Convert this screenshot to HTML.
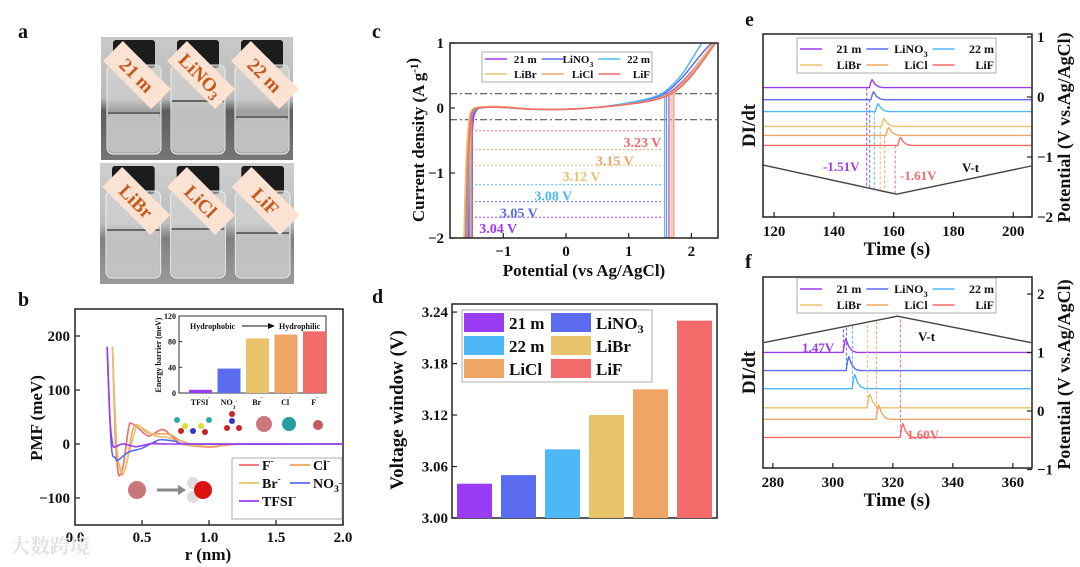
<!DOCTYPE html>
<html><head><meta charset="utf-8">
<style>
html,body{margin:0;padding:0;background:#fff;}
svg{display:block;font-family:"Liberation Serif","Noto Serif CJK SC",serif;font-weight:bold;}
</style></head>
<body>
<svg id="fig" width="1080" height="567" viewBox="0 0 1080 567" xmlns="http://www.w3.org/2000/svg">
<defs>
<clipPath id="clipB"><rect x="75" y="309" width="268" height="216"/></clipPath>
<clipPath id="clipC"><rect x="450" y="43" width="268" height="195"/></clipPath>
<linearGradient id="vialTop" x1="0" y1="0" x2="0" y2="1"><stop offset="0" stop-color="#c9c9c9"/><stop offset="0.5" stop-color="#b9b9b9"/><stop offset="0.6" stop-color="#5d5d5d"/><stop offset="1" stop-color="#777"/></linearGradient>
<linearGradient id="vialBot" x1="0" y1="0" x2="0" y2="1"><stop offset="0" stop-color="#cfcfcf"/><stop offset="0.5" stop-color="#bdbdbd"/><stop offset="0.62" stop-color="#808080"/><stop offset="1" stop-color="#9a9a9a"/></linearGradient>
</defs>
<g id="root"></g>
</svg>
<script>
// ---------- data ----------
const seriesNames = ["21 m","LiNO3","22 m","LiBr","LiCl","LiF"];
const seriesColors = ["#9B3CF5","#5B6CF0","#4DB8F5","#E8C36A","#EFA565","#F46B6B"];
// panel d
const windowValues = [3.04,3.05,3.08,3.12,3.15,3.23];
const dTicks = [3.00,3.06,3.12,3.18,3.24];
// panel b inset
const insetCats = ["TFSI","NO3","Br","Cl","F"];
const insetValues = [5,38,85,91,96];
const insetTicks = [0,40,80,120];
// panel b PMF curves [r, meV]
const pmfF = [[0.28,180],[0.3,20],[0.32,-50],[0.335,-57],[0.36,-40],[0.4,30],[0.42,38],[0.47,30],[0.55,15],[0.65,27],[0.72,15],[0.8,0],[0.95,-5],[1.05,-5],[1.2,0],[2,0]];
const pmfCl = [[0.28,180],[0.31,0],[0.34,-50],[0.36,-55],[0.39,-30],[0.43,25],[0.47,35],[0.55,20],[0.7,18],[0.8,5],[0.95,-5],[1.1,-3],[1.3,0],[2,0]];
const pmfBr = [[0.28,180],[0.31,0],[0.34,-45],[0.37,-50],[0.41,-10],[0.46,32],[0.5,30],[0.6,15],[0.7,12],[0.8,0],[0.9,-3],[1.1,0],[2,0]];
const pmfNO3 = [[0.24,180],[0.27,0],[0.3,-25],[0.32,-30],[0.4,-15],[0.5,-8],[0.6,5],[0.65,8],[0.75,5],[0.9,0],[2,0]];
const pmfTFSI = [[0.24,180],[0.26,50],[0.28,0],[0.3,-5],[0.35,0],[0.4,-2],[0.45,-5],[0.5,-3],[0.6,2],[0.7,0],[2,0]];
const bTicksX = [0.0,0.5,1.0,1.5,2.0];
const bTicksY = [-100,0,100,200];
// panel c LSV curves [V, A/g]
const lsv21 = [[-1.55,-2.1],[-1.52,-1],[-1.49,-0.3],[-1.44,-0.05],[-1.3,0.01],[-1,0.01],[-0.5,-0.02],[0,-0.02],[0.5,0.01],[1,0.06],[1.4,0.13],[1.7,0.27],[1.95,0.5],[2.2,0.8],[2.4,1.05]];
const lsvNO3 = [[-1.57,-2.1],[-1.54,-1],[-1.51,-0.3],[-1.46,-0.05],[-1.3,0.01],[-1,0.01],[-0.5,-0.02],[0,-0.02],[0.5,0.01],[1,0.07],[1.4,0.15],[1.65,0.28],[1.9,0.52],[2.15,0.82],[2.37,1.05]];
const lsv22 = [[-1.58,-2.1],[-1.55,-1],[-1.52,-0.3],[-1.47,-0.05],[-1.3,0.01],[-1,0.01],[-0.5,-0.02],[0,-0.02],[0.5,0.01],[1,0.08],[1.4,0.17],[1.6,0.27],[1.85,0.52],[2.05,0.82],[2.2,1.05]];
const lsvBr = [[-1.63,-2.1],[-1.6,-1],[-1.56,-0.3],[-1.5,-0.03],[-1.3,0.02],[-1,0.02],[-0.5,-0.02],[0,-0.02],[0.5,0.01],[1,0.06],[1.4,0.13],[1.7,0.25],[1.95,0.48],[2.2,0.8],[2.38,1.05]];
const lsvCl = [[-1.61,-2.1],[-1.58,-1],[-1.54,-0.3],[-1.49,-0.04],[-1.3,0.01],[-1,0.01],[-0.5,-0.02],[0,-0.02],[0.5,0.01],[1,0.06],[1.4,0.12],[1.72,0.25],[1.97,0.48],[2.22,0.8],[2.4,1.05]];
const lsvF = [[-1.6,-2.1],[-1.57,-1],[-1.53,-0.3],[-1.48,-0.04],[-1.3,0.01],[-1,0.01],[-0.5,-0.02],[0,-0.02],[0.5,0.01],[1,0.06],[1.4,0.12],[1.72,0.24],[1.98,0.47],[2.24,0.8],[2.42,1.05]];
const cTicksX = [-1,0,1,2];
const cTicksY = [-2,-1,0,1];
const cLeftCut = [-1.5,-1.49,-1.52,-1.53,-1.51,-1.5];
const cRightCut = [1.64,1.6,1.57,1.66,1.69,1.72];
const cLevels = [-1.68,-1.44,-1.18,-0.88,-0.64,-0.35];
const cLabels = ["3.04 V","3.05 V","3.08 V","3.12 V","3.15 V","3.23 V"];
const cLabelEnd = [-0.78,-0.45,0.1,0.55,1.08,1.52];
// panel e
const eBase = [70.7,64.1,57.6,49.5,44.6,39.1];
const ePeakT = [152.5,153,154.5,156.5,158,162];
const eCutT = [151,152,153.5,155.5,157,160.5];
const eVtT = [116,161,206];
const eVtV = [-1.13,-1.62,-1.15];
const eTicksX = [120,140,160,180,200];
const eTicksR = [-2,-1,0,1];
// panel f
const fBase = [60.5,51,41.5,31.5,25.5,16];
const fPeakT = [304,305,307,312,315,323];
const fCutT = [303.5,304.5,306.5,311.5,314.5,322.5];
const fVtT = [277,321.5,366];
const fVtV = [1.17,1.62,1.17];
const fTicksX = [280,300,320,340,360];
const fTicksR = [-1,0,1,2];

// ---------- helpers ----------
const NS="http://www.w3.org/2000/svg";
const root=document.getElementById('root');
function mk(tag,attrs,name,parent){
  const el=document.createElementNS(NS,tag);
  for(const k in attrs) el.setAttribute(k,attrs[k]);
  
  
  (parent||root).appendChild(el);
  return el;
}
function txt(x,y,s,size,name,opts){
  opts=opts||{};
  const el=mk('text',{x:x,y:y,'font-size':size,fill:opts.fill||'#111','text-anchor':opts.anchor||'start'},name,opts.parent);
  if(opts.rot) el.setAttribute('transform','rotate('+opts.rot+' '+x+' '+y+')');
  if(opts.html) el.innerHTML=s; else el.textContent=s;
  return el;
}
function line(x1,y1,x2,y2,stroke,w,name,dash,parent){
  const a={x1:x1,y1:y1,x2:x2,y2:y2,stroke:stroke,'stroke-width':w};
  if(dash) a['stroke-dasharray']=dash;
  return mk('line',a,name,parent);
}
function smooth(pts){
  let d='M'+pts[0][0].toFixed(2)+','+pts[0][1].toFixed(2);
  for(let i=0;i<pts.length-1;i++){
    const p0=pts[i-1]||pts[i],p1=pts[i],p2=pts[i+1],p3=pts[i+2]||p2;
    const c1=[p1[0]+(p2[0]-p0[0])/6,p1[1]+(p2[1]-p0[1])/6];
    const c2=[p2[0]-(p3[0]-p1[0])/6,p2[1]-(p3[1]-p1[1])/6];
    d+=' C'+c1[0].toFixed(2)+','+c1[1].toFixed(2)+' '+c2[0].toFixed(2)+','+c2[1].toFixed(2)+' '+p2[0].toFixed(2)+','+p2[1].toFixed(2);
  }
  return d;
}
function frame(x,y,w,h,name){ return mk('rect',{x:x,y:y,width:w,height:h,fill:'none',stroke:'#222','stroke-width':1.5},name); }
function sub(s){return '<tspan font-size="70%" dy="4">'+s+'</tspan><tspan dy="-4"></tspan>';}
function sup(s){return '<tspan font-size="65%" dy="-6">'+s+'</tspan><tspan dy="6"></tspan>';}
function labelHtml(n){ return n==="LiNO3" ? 'LiNO'+sub('3') : n; }

// panel letters
[['a',18,38],['b',18,306],['c',372,38],['d',372,303],['e',745,26],['f',745,268]].forEach(p=>txt(p[1],p[2],p[0],20,'panel-label-'+p[0]));

// ---------- panel a (photos) ----------
function photo(x,y,w,h,grad,labels,liquidY,name){
  const g=mk('g',{},name);
  mk('rect',{x:x,y:y,width:w,height:h,fill:'url(#'+grad+')'},name+'-background',g);
  const vw=w/3;
  labels.forEach((lb,i)=>{
    const vx=x+i*vw+6;
    mk('rect',{x:vx+6,y:y+3,width:vw-22,height:28,rx:3,fill:'#1c1c1c'},'vial-cap',g);
    mk('rect',{x:vx,y:y+28,width:vw-10,height:h-34,rx:6,fill:'#d9d9d9','fill-opacity':0.55,stroke:'#eee','stroke-width':1},'vial-body',g);
    mk('rect',{x:vx+1,y:liquidY[i],width:vw-12,height:y+h-8-liquidY[i],rx:5,fill:'#c4c4c4','fill-opacity':0.85},'vial-liquid',g);
    line(vx+1,liquidY[i],vx+vw-11,liquidY[i],'#666',2,'liquid-meniscus',null,g);
    const cx=vx+vw/2-2, cy=y+38;
    const lg=mk('g',{transform:'rotate(45 '+cx+' '+cy+')'},'vial-label',g);
    mk('rect',{x:cx-34,y:cy-14,width:68,height:28,fill:'#FBE3D3'},'vial-label-box',lg);
    txt(cx,cy+7,labelHtml(lb),19,'vial-label-text',{anchor:'middle',fill:'#C5591C',parent:lg,html:true});
  });
}
photo(101,37,192,123,'vialTop',["21 m","LiNO3","22 m"],[113,101,117],'photo-top');
photo(100,163,194,121,'vialBot',["LiBr","LiCl","LiF"],[230,229,233],'photo-bottom');

// ---------- panel b ----------
const bx=r=>75+r*134, by=v=>444-v*0.54;
frame(75,309,268,216,'pmf-plot-frame');
bTicksX.forEach(t=>{line(bx(t),525,bx(t),520,'#222',1.2,'x-tick');txt(bx(t),542,t.toFixed(1),15,'x-tick-label',{anchor:'middle'});});
bTicksY.forEach(t=>{line(75,by(t),80,by(t),'#222',1.2,'y-tick');txt(70,by(t)+5,(t<0?'\u2212':'')+Math.abs(t),15,'y-tick-label',{anchor:'end'});});
txt(208,560,'r (nm)',17,'x-axis-title',{anchor:'middle'});
txt(42,418,'PMF (meV)',17,'y-axis-title',{anchor:'middle',rot:-90});
const gb=mk('g',{'clip-path':'url(#clipB)'},'pmf-curves');
[[pmfF,5],[pmfCl,4],[pmfBr,3],[pmfNO3,1],[pmfTFSI,0]].forEach(s=>{
  mk('path',{d:smooth(s[0].map(p=>[bx(p[0]),by(p[1])])),fill:'none',stroke:seriesColors[s[1]],'stroke-width':1.6},'pmf-line-'+s[1],gb);
});
// inset
const iy=v=>393-v*0.642;
mk('rect',{x:179,y:316,width:147,height:77,fill:'#fff',stroke:'#333','stroke-width':1},'inset-frame');
insetTicks.forEach(t=>{line(179,iy(t),182,iy(t),'#333',1,'inset-y-tick');txt(176,iy(t)+3,t,8,'inset-y-tick-label',{anchor:'end'});});
txt(161,355,'Energy barrier (meV)',8,'inset-y-title',{anchor:'middle',rot:-90});
const insetColors=[0,1,3,4,5];
insetCats.forEach((c,i)=>{
  const cx=200.5+28.5*i;
  mk('rect',{x:cx-11.5,y:iy(insetValues[i]),width:23,height:393-iy(insetValues[i]),fill:seriesColors[insetColors[i]]},'inset-bar-'+c);
  txt(cx,405,'',8,'inset-x-label',{anchor:'middle',html:true}).innerHTML= i==1?'NO'+sub('3')+sup('-'):c+sup('-');
});
txt(190,329,'Hydrophobic',8,'inset-annotation-left');
line(242,326,272,326,'#111',1,'inset-arrow-line');
mk('polygon',{points:'275,326 268,323 268,329',fill:'#111'},'inset-arrow-head');
txt(279,329,'Hydrophilic',8,'inset-annotation-right');
// molecules
const tfsi=[[177,420,'#3aa'],[185,426,'#dd3'],[193,431,'#33c'],[201,426,'#dd3'],[209,420,'#3aa'],[181,431,'#c22'],[205,432,'#c22']];
tfsi.forEach(a=>mk('circle',{cx:a[0],cy:a[1],r:3,fill:a[2]},'tfsi-atom'));
[[232,421,'#33c'],[227,428,'#c22'],[239,428,'#c22'],[232,414,'#c22']].forEach(a=>mk('circle',{cx:a[0],cy:a[1],r:3,fill:a[2]},'nitrate-atom'));
mk('circle',{cx:264,cy:424,r:8,fill:'#c9777b'},'bromide-ion');
mk('circle',{cx:289,cy:424,r:7,fill:'#229e9e'},'chloride-ion');
mk('circle',{cx:318,cy:425,r:5,fill:'#c25a5f'},'fluoride-ion');
mk('circle',{cx:137,cy:490,r:9,fill:'#c9777b'},'ion-sphere');
line(157,490,180,490,'#888',3,'ion-water-arrow');
mk('polygon',{points:'186,490 178,485 178,495',fill:'#888'},'ion-water-arrow-head');
mk('circle',{cx:193,cy:483,r:6,fill:'#ddd'},'water-h1');
mk('circle',{cx:193,cy:497,r:6,fill:'#ddd'},'water-h2');
mk('circle',{cx:203,cy:490,r:9,fill:'#d11'},'water-o');
// legend b
mk('rect',{x:232,y:458,width:110,height:61,fill:'#fff',stroke:'#999','stroke-width':0.8},'pmf-legend');
[[5,'F'+sup('-'),239,470],[4,'Cl'+sup('-'),290,470],[3,'Br'+sup('-'),239,488],[1,'NO'+sub('3')+sup('-'),290,488],[0,'TFSI'+sup('-'),239,506]].forEach(e=>{
  line(e[2],e[3]-5,e[2]+20,e[3]-5,seriesColors[e[0]],1.8,'pmf-legend-swatch');
  txt(e[2]+23,e[3],e[1],14,'pmf-legend-label',{html:true});
});
txt(10,553,'\u5927\u6570\u8de8\u5883',20,'watermark',{fill:'#e2e2e2'});

// ---------- panel c ----------
const cx_=v=>566+v*62.7, cy_=v=>108-v*65;
const gc=mk('g',{'clip-path':'url(#clipC)'},'lsv-area');
[0.22,-0.18].forEach(v=>line(450,cy_(v),718,cy_(v),'#555',1.2,'threshold-line','7,3,2,3',gc));
[lsv21,lsvNO3,lsv22,lsvBr,lsvCl,lsvF].forEach((s,i)=>{
  mk('path',{d:smooth(s.map(p=>[cx_(p[0]),cy_(p[1])])),fill:'none',stroke:seriesColors[i],'stroke-width':1.5},'lsv-line-'+seriesNames[i],gc);
  line(cx_(cLeftCut[i]),cy_(-0.18),cx_(cLeftCut[i]),238,seriesColors[i],1,'cathodic-limit-line',null,gc);
  line(cx_(cRightCut[i]),cy_(0.22),cx_(cRightCut[i]),238,seriesColors[i],1,'anodic-limit-line',null,gc);
  line(cx_(-1.45),cy_(cLevels[i]),cx_(1.55),cy_(cLevels[i]),seriesColors[i],1,'window-level-line','2,2',gc);
  txt(cx_(cLabelEnd[i]),cy_(cLevels[i])+16,cLabels[i],14,'window-label-'+seriesNames[i],{anchor:'end',fill:seriesColors[i],parent:gc});
});
frame(450,43,268,195,'lsv-plot-frame');
cTicksX.forEach(t=>{line(cx_(t),238,cx_(t),233,'#222',1.2,'x-tick');txt(cx_(t),256,(t<0?'\u2212':'')+Math.abs(t),15,'x-tick-label',{anchor:'middle'});});
cTicksY.forEach(t=>{line(450,cy_(t),455,cy_(t),'#222',1.2,'y-tick');txt(444,cy_(t)+5,(t<0?'\u2212':'')+Math.abs(t),15,'y-tick-label',{anchor:'end'});});
txt(584,276,'Potential (vs Ag/AgCl)',17,'x-axis-title',{anchor:'middle'});
txt(424,140,'Current density (A g'+sup('-1')+')',17,'y-axis-title',{anchor:'middle',rot:-90,html:true});
function legend6(x0,y0,w,h,name,fs,rowY){
  mk('rect',{x:x0,y:y0,width:w,height:h,fill:'#fff',stroke:'#999','stroke-width':0.8},name);
  seriesNames.forEach((n,i)=>{
    const c=i%3,r=Math.floor(i/3), X=x0+3+c*(w/3), Y=rowY[r];
    line(X,Y-4,X+22,Y-4,seriesColors[i],1.6,name+'-swatch');
    txt(X+w/3-5,Y,labelHtml(n),fs,name+'-label',{anchor:'end',html:true});
  });
}
legend6(482,52,170,30,'lsv-legend',11,[63,78]);

// ---------- panel d ----------
const dy=v=>518-(v-3.0)*858;
frame(452,304,265,214,'bar-plot-frame');
dTicks.forEach(t=>{line(452,dy(t),457,dy(t),'#222',1.2,'y-tick');txt(448,dy(t)+5,t.toFixed(2),15,'y-tick-label',{anchor:'end'});});
windowValues.forEach((v,i)=>{
  const cx=474.5+44*i;
  mk('rect',{x:cx-17.5,y:dy(v),width:35,height:518-dy(v),fill:seriesColors[i]},'bar-'+seriesNames[i]);
});
txt(403,410,'Voltage window (V)',19,'y-axis-title',{anchor:'middle',rot:-90});
mk('rect',{x:462,y:310,width:190,height:72,fill:'#fff',stroke:'#999','stroke-width':0.8},'bar-legend');
seriesNames.forEach((n,i)=>{
  const c=i%2,r=Math.floor(i/2),X=464+c*87,Y=313+r*23;
  mk('rect',{x:X,y:Y,width:40,height:19,fill:seriesColors[i]},'bar-legend-swatch');
  txt(X+45,Y+16,labelHtml(n),17,'bar-legend-label',{html:true});
});

// ---------- panels e & f ----------
function dpanel(o){
  const X=t=>o.x0+(t-o.t0)*o.sx, YL=v=>o.yb-(v/100)*(o.yb-o.yt), YR=v=>o.r0-v*o.rs;
  const g=mk('g',{},o.name);
  o.base.forEach((b,i)=>{
    const y=YL(b), tp=o.peak[i], h=o.h;
    const pts=[[X(o.t0),y],[X(tp-0.6),y],[X(tp-0.1),y-h*0.7],[X(tp+0.3),y-h],[X(tp+1.2),y-h*0.45],[X(tp+2.5),y-h*0.1],[X(tp+4),y],[X(o.t1),y]];
    mk('path',{d:'M'+pts.map(p=>p[0].toFixed(1)+','+p[1].toFixed(1)).join(' L'),fill:'none',stroke:seriesColors[i],'stroke-width':1.4,'stroke-linejoin':'round'},o.name+'-trace-'+seriesNames[i],g);
    const tc=o.cut[i];
    let vv; for(let k=0;k<o.vtT.length-1;k++){ if(tc>=o.vtT[k]&&tc<=o.vtT[k+1]){vv=o.vtV[k]+(o.vtV[k+1]-o.vtV[k])*(tc-o.vtT[k])/(o.vtT[k+1]-o.vtT[k]);} }
    line(X(tc),y,X(tc),YR(vv),seriesColors[i],1,o.name+'-marker-line','3,2',g);
  });
  mk('polyline',{points:o.vtT.map((t,k)=>X(t).toFixed(1)+','+YR(o.vtV[k]).toFixed(1)).join(' '),fill:'none',stroke:'#444','stroke-width':1.4},o.name+'-vt-line',g);
  frame(o.x0,o.yt,o.x1-o.x0,o.yb-o.yt,o.name+'-frame');
  o.ticksX.forEach(t=>{line(X(t),o.yb,X(t),o.yb-5,'#222',1.2,'x-tick');txt(X(t),o.yb+19,t,15,'x-tick-label',{anchor:'middle'});});
  o.ticksR.forEach(t=>{line(o.x1,YR(t),o.x1-5,YR(t),'#222',1.2,'right-y-tick');txt(o.x1+5,YR(t)+5,(t<0?'\u2212':'')+Math.abs(t),15,'right-y-tick-label');});
  txt(897,o.yb+38,'Time (s)',19,'x-axis-title',{anchor:'middle'});
  txt(755,(o.yt+o.yb)/2,'DI/dt',19,'left-y-axis-title',{anchor:'middle',rot:-90});
  txt(1070,(o.yt+o.yb)/2+2,'Potential (V vs.Ag/AgCl)',18,'right-y-axis-title',{anchor:'middle',rot:-90});
  legend6(797,o.legY,199,o.legH,o.name+'-legend',12,[o.legY+15,o.legY+31]);
}
dpanel({name:'panel-e',x0:763,x1:1032,yt:34,yb:217,t0:116.3,t1:206,sx:2.99,r0:97,rs:60,base:eBase,peak:ePeakT,cut:eCutT,h:8,vtT:eVtT,vtV:eVtV,ticksX:eTicksX,ticksR:eTicksR,legY:38,legH:35});
txt(823,171,'-1.51V',13,'peak-label-21m',{fill:seriesColors[0]});
txt(900,180,'-1.61V',13,'peak-label-lif',{fill:seriesColors[5]});
txt(962,172,'V-t',13,'vt-label-e');
dpanel({name:'panel-f',x0:763,x1:1032,yt:277,yb:468,t0:276.7,t1:366,sx:3,r0:411,rs:58.5,base:fBase,peak:fPeakT,cut:fCutT,h:14,vtT:fVtT,vtV:fVtV,ticksX:fTicksX,ticksR:fTicksR,legY:278,legH:35});
txt(802,352,'1.47V',13,'peak-label-21m-f',{fill:seriesColors[0]});
txt(907,439,'1.60V',13,'peak-label-lif-f',{fill:seriesColors[5]});
txt(918,341,'V-t',13,'vt-label-f');
</script>
</body></html>
